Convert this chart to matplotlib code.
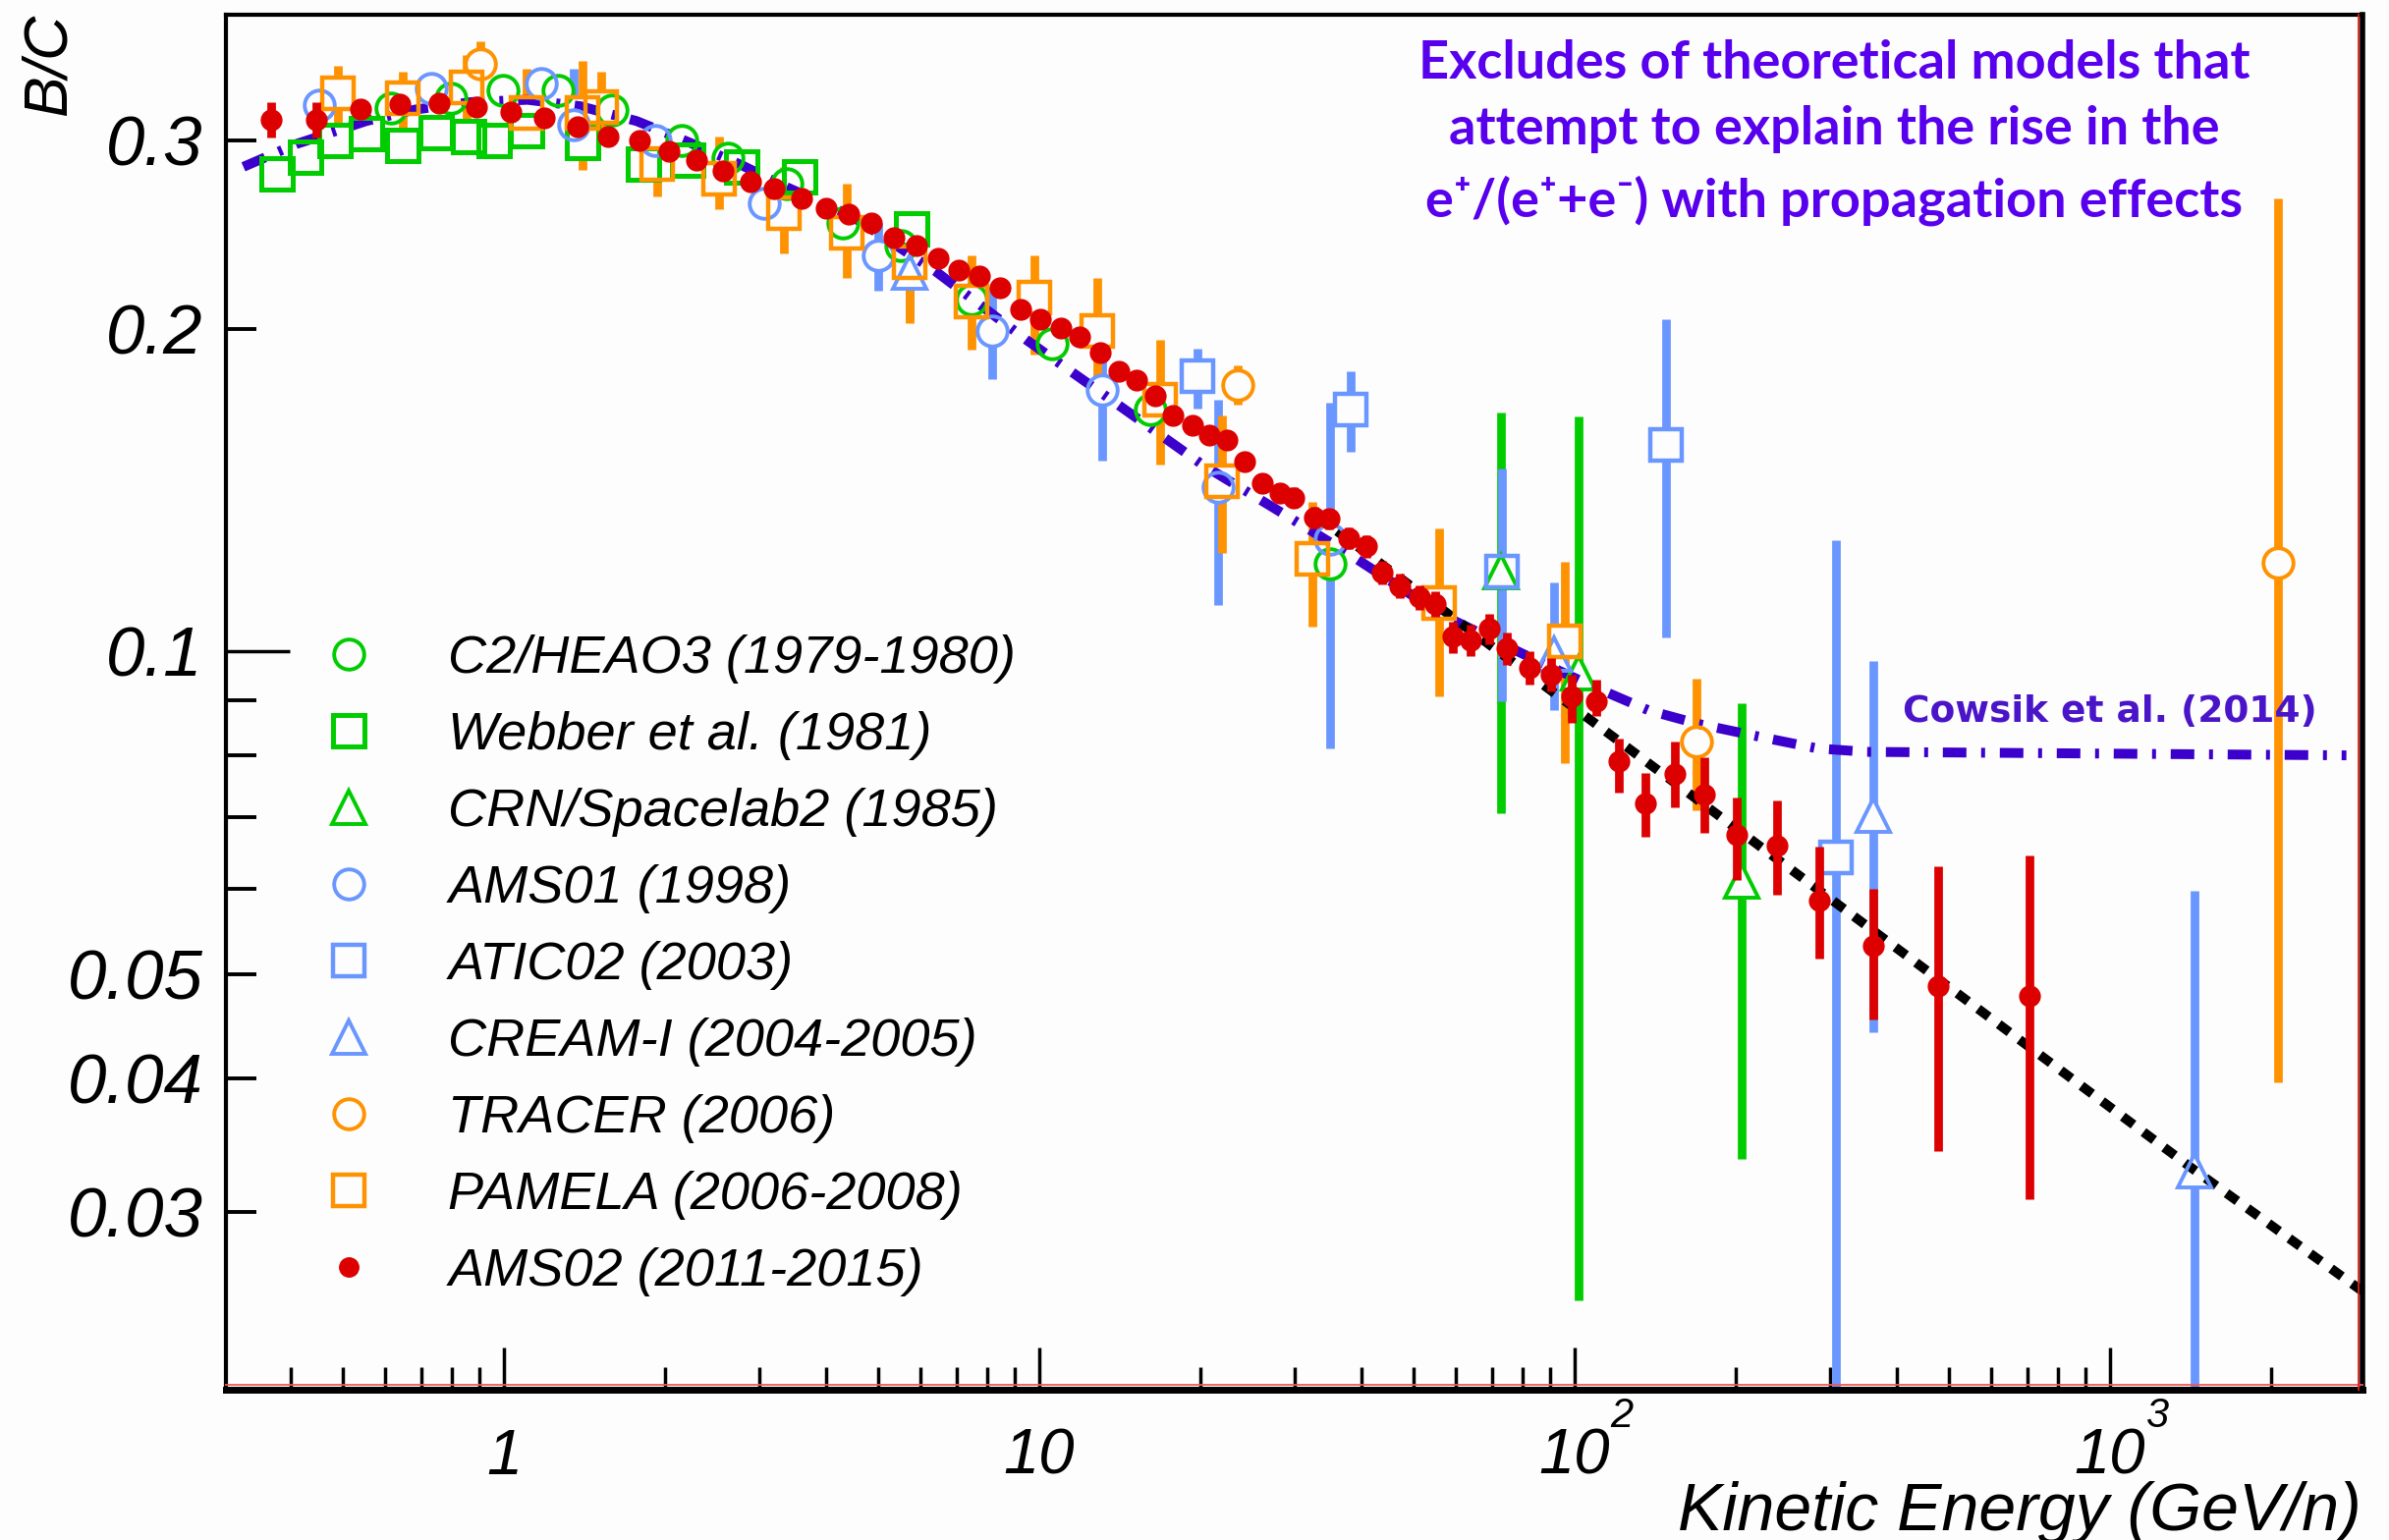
import numpy as np
import matplotlib
matplotlib.use("Agg")
import matplotlib.pyplot as plt
import matplotlib.transforms as mtransforms
from matplotlib.lines import Line2D
from matplotlib.ticker import FixedLocator, FuncFormatter, NullFormatter

plt.rcParams['font.family'] = ['Liberation Sans', 'DejaVu Sans']
plt.rcParams['font.style'] = 'italic'

BG = '#FDFDFD'
GREEN = '#00CC00'
BLUE = '#6A96FF'
ORANGE = '#FF9200'
RED = '#DD0000'
MODEL = '#3C00CC'
NOTE = '#5800EE'

# ---------------- data: B/C ratio vs kinetic energy per nucleon ----------------
heao_E = [0.615, 0.795, 0.996, 1.26, 1.59, 2.15, 2.62, 3.38, 4.30, 5.51, 7.46, 10.55, 16.1, 34.9]
heao_BC = [0.3215, 0.3284, 0.334, 0.334, 0.3204, 0.2998, 0.2884, 0.2735, 0.2512, 0.2392,
           0.213, 0.1938, 0.1683, 0.1207]

webber_E = [0.377, 0.425, 0.483, 0.553, 0.648, 0.748, 0.857, 0.96, 1.10, 1.40, 1.82, 2.2, 2.78, 3.56, 5.77]
webber_BC = [0.279, 0.289, 0.300, 0.304, 0.2965, 0.305, 0.3025, 0.2998, 0.306, 0.2986,
             0.2853, 0.2873, 0.2833, 0.2774, 0.2478]

crn_E = [72.7, 101.6, 205.0]
crn_BC = [0.1186, 0.0955, 0.0611]
crn_lo = [0.0707, 0.0248, 0.0336]
crn_hi = [0.1671, 0.1658, 0.0894]

ams01_E = [0.451, 0.731, 1.176, 1.348, 1.92, 3.06, 5.0, 8.17, 13.1, 21.6, 34.9]
ams01_BC = [0.3238, 0.3354, 0.339, 0.310, 0.2998, 0.262, 0.2343, 0.1993, 0.1756, 0.1422, 0.1272]
ams01_lo = [0.316, 0.328, 0.331, 0.289, 0.292, 0.254, 0.2173, 0.1794, 0.1508, 0.1105, 0.0812]
ams01_hi = [0.331, 0.343, 0.347, 0.350, 0.308, 0.270, 0.2513, 0.2190, 0.1975, 0.1719, 0.1707]

atic_E = [19.7, 38.2, 73.0, 148.4, 307.0]
atic_BC = [0.1806, 0.1683, 0.1186, 0.1559, 0.0642]
atic_lo = [0.1687, 0.1535, 0.0899, 0.1030, 0.0150]
atic_hi = [0.1918, 0.1827, 0.1483, 0.2042, 0.1270]

cream_E = [5.72, 91.6, 361.0, 1439.0]
cream_BC = [0.2260, 0.0995, 0.0704, 0.0328]
cream_lo = [0.2041, 0.0881, 0.0441, 0.0150]
cream_hi = [0.2300, 0.1160, 0.0979, 0.0598]

tracer_E = [0.903, 23.5, 168.7, 2061.0]
tracer_BC = [0.3535, 0.1774, 0.0824, 0.1209]
tracer_lo = [0.3450, 0.1700, 0.0711, 0.0396]
tracer_hi = [0.3714, 0.1850, 0.0944, 0.2649]

pamela_E = [0.489, 0.648, 0.850, 1.10, 1.40, 1.52, 1.935, 2.52, 3.33, 4.37, 5.73, 7.46,
            9.79, 12.84, 16.84, 21.9, 32.3, 55.7, 95.8]
pamela_BC = [0.332, 0.3284, 0.336, 0.318, 0.318, 0.322, 0.2853, 0.2763, 0.2567, 0.246,
             0.231, 0.2123, 0.2138, 0.1993, 0.1719, 0.1442, 0.1219, 0.1109, 0.1023]
pamela_lo = [0.304, 0.3004, 0.3104, 0.2986, 0.2812, 0.2986, 0.266, 0.2585, 0.235, 0.2233,
             0.2026, 0.1911, 0.1892, 0.1752, 0.1494, 0.1235, 0.1056, 0.0908, 0.0787]
pamela_hi = [0.3523, 0.3475, 0.360, 0.350, 0.3556, 0.3475, 0.3104, 0.3025, 0.2833, 0.2735,
             0.2526, 0.2344, 0.2344, 0.2231, 0.1953, 0.1659, 0.1378, 0.1303, 0.1213]

ams02_E = [0.368, 0.446, 0.539, 0.638, 0.756, 0.887, 1.03, 1.19, 1.374, 1.567,
           1.79, 2.03, 2.29, 2.57, 2.89, 3.20, 3.59, 3.99, 4.40, 4.85,
           5.35, 5.90, 6.46, 7.07, 7.74, 8.44, 9.21, 10.06, 10.96, 11.9,
           13.0, 14.06, 15.16, 16.47, 17.77, 19.30, 20.8, 22.4, 24.2, 26.1,
           28.1, 29.9, 32.6, 34.8, 37.9, 40.8, 43.7, 47.1, 51.2, 54.8,
           59.1, 63.8, 69.2, 74.7, 82.3, 90.2, 98.7, 109.7, 121.0, 135.6,
           154.0, 175.0, 200.8, 238.7, 286.0, 361.0, 477.5, 708.0]
ams02_BC = [0.3136, 0.3136, 0.321, 0.3243, 0.325, 0.3224, 0.3187, 0.315, 0.3087, 0.3025,
            0.2998, 0.2931, 0.2876, 0.2809, 0.2745, 0.2706, 0.2648, 0.2594, 0.2559, 0.2513,
            0.2434, 0.2392, 0.2328, 0.2271, 0.2239, 0.2184, 0.2086, 0.2042, 0.2003, 0.1965,
            0.190, 0.1825, 0.1791, 0.1731, 0.166, 0.1625, 0.1593, 0.1575, 0.1504, 0.1437,
            0.1407, 0.1392, 0.1334, 0.133, 0.1275, 0.1253, 0.1184, 0.1151, 0.1123, 0.1107,
            0.1032, 0.1025, 0.105, 0.1007, 0.0966, 0.0952, 0.0908, 0.0899, 0.0790, 0.0721,
            0.0768, 0.0736, 0.0675, 0.0659, 0.0585, 0.0531, 0.0487, 0.0477]
ams02_dn = [0.012, 0.012, 0.003, 0.003, 0.003, 0.003, 0.003, 0.003, 0.003, 0.003,
            0.003, 0.003, 0.003, 0.003, 0.003, 0.003, 0.003, 0.003, 0.003, 0.003,
            0.003, 0.003, 0.003, 0.003, 0.003, 0.003, 0.003, 0.003, 0.003, 0.003,
            0.003, 0.003, 0.003, 0.003, 0.003, 0.003, 0.003, 0.003, 0.003, 0.003,
            0.003, 0.003, 0.003, 0.003, 0.003, 0.003, 0.003, 0.003, 0.003, 0.003,
            0.0035, 0.0035, 0.0035, 0.0035, 0.0035, 0.0035, 0.0051, 0.0028, 0.0051, 0.0049,
            0.0052, 0.0059, 0.0063, 0.0066, 0.0068, 0.0077, 0.0145, 0.0169]
ams02_up = [0.012, 0.012, 0.003, 0.003, 0.003, 0.003, 0.003, 0.003, 0.003, 0.003,
            0.003, 0.003, 0.003, 0.003, 0.003, 0.003, 0.003, 0.003, 0.003, 0.003,
            0.003, 0.003, 0.003, 0.003, 0.003, 0.003, 0.003, 0.003, 0.003, 0.003,
            0.003, 0.003, 0.003, 0.003, 0.003, 0.003, 0.003, 0.003, 0.003, 0.003,
            0.003, 0.003, 0.003, 0.003, 0.003, 0.003, 0.003, 0.003, 0.003, 0.003,
            0.0035, 0.0035, 0.0035, 0.0035, 0.0035, 0.0035, 0.0043, 0.0042, 0.0040, 0.0050,
            0.0056, 0.0060, 0.0056, 0.0067, 0.0073, 0.0069, 0.0144, 0.0168]

# model curves
cowsik_E = [0.326, 0.409, 0.553, 0.683, 0.870, 1.107, 1.389, 1.768, 2.217, 2.78, 3.30, 4.46,
            6.41, 9.49, 13.85, 20.2, 27.3, 37.6, 56.5, 80.0, 108.0, 137.6, 170.0, 223.0,
            284.0, 351.0, 2764.0]
cowsik_BC = [0.2833, 0.2975, 0.3126, 0.3204, 0.3256, 0.3272, 0.3227, 0.3126, 0.2986, 0.2843,
             0.2725, 0.2549, 0.2262, 0.1951, 0.1707, 0.1493, 0.1363, 0.1236, 0.1082, 0.0995,
             0.0928, 0.0881, 0.0856, 0.0832, 0.0812, 0.0806, 0.0800]
fit_E = [36.0, 283.0, 1440.0, 2960.0]
fit_BC = [0.1295, 0.0601, 0.0328, 0.0253]

# axis ticks and labels
x_major = [1, 10, 100, 1000]
x_minor = [0.4, 0.5, 0.6, 0.7, 0.8, 0.9, 2, 3, 4, 5, 6, 7, 8, 9,
           20, 30, 40, 50, 60, 70, 80, 90, 200, 300, 400, 500, 600, 700, 800, 900, 2000]
x_label_base = ['1', '10', '10', '10']
x_label_sup = ['', '', '2', '3']
y_major = [0.1]
y_minor = [0.03, 0.04, 0.05, 0.06, 0.07, 0.08, 0.09, 0.2, 0.3]
y_label_values = [0.03, 0.04, 0.05, 0.1, 0.2, 0.3]
y_label_text = ['0.03', '0.04', '0.05', '0.1', '0.2', '0.3']

legend_labels = ['C2/HEAO3 (1979-1980)', 'Webber et al. (1981)', 'CRN/Spacelab2 (1985)',
                 'AMS01 (1998)', 'ATIC02 (2003)', 'CREAM-I (2004-2005)', 'TRACER (2006)',
                 'PAMELA (2006-2008)', 'AMS02 (2011-2015)']

note_lines = ['Excludes of theoretical models that',
              'attempt to explain the rise in the',
              'e\u207a/(e\u207a+e\u207b) with propagation effects']

# ---------------- figure ----------------
W, H = 2432, 1568
fig = plt.figure(figsize=(W / 100, H / 100), dpi=100, facecolor=BG)
ax = fig.add_axes([230 / W, (H - 1415) / H, 2175 / W, 1400 / H])
ax.set_facecolor(BG)
ax.set_xscale('log')
ax.set_yscale('log')
ax.set_xlim(0.3024, 2962)
ax.set_ylim(0.02047, 0.3928)

ELW = 6.3


def open_series(E, BC, color, marker, ms, mew, label, lo=None, hi=None):
    E = np.asarray(E, float)
    BC = np.asarray(BC, float)
    if lo is not None:
        yerr = [BC - np.asarray(lo, float), np.asarray(hi, float) - BC]
        ax.errorbar(E, BC, yerr=yerr, fmt='none', ecolor=color, elinewidth=ELW,
                    capsize=0, zorder=2)
    # blank the marker interior so bars stop at the outline
    ax.plot(E, BC, ls='none', marker=marker, ms=ms, mfc=BG, mec='none', zorder=3)
    h, = ax.plot(E, BC, ls='none', marker=marker, ms=ms, mfc='none', mec=color,
                 mew=mew, zorder=5, label=label)
    return h


handles = []
handles.append(open_series(heao_E, heao_BC, GREEN, 'o', 22, 2.8, legend_labels[0]))
handles.append(open_series(webber_E, webber_BC, GREEN, 's', 23, 3.6, legend_labels[1]))
handles.append(open_series(crn_E, crn_BC, GREEN, '^', 24, 2.8, legend_labels[2], crn_lo, crn_hi))
handles.append(open_series(ams01_E, ams01_BC, BLUE, 'o', 22, 2.8, legend_labels[3], ams01_lo, ams01_hi))
handles.append(open_series(atic_E, atic_BC, BLUE, 's', 23, 3.2, legend_labels[4], atic_lo, atic_hi))
handles.append(open_series(cream_E, cream_BC, BLUE, '^', 24, 2.8, legend_labels[5], cream_lo, cream_hi))
handles.append(open_series(tracer_E, tracer_BC, ORANGE, 'o', 22, 2.8, legend_labels[6], tracer_lo, tracer_hi))
handles.append(open_series(pamela_E, pamela_BC, ORANGE, 's', 23, 3.2, legend_labels[7], pamela_lo, pamela_hi))

ax.errorbar(ams02_E, ams02_BC, yerr=[ams02_dn, ams02_up], fmt='o', color=RED, ms=15,
            elinewidth=ELW, capsize=0, zorder=6)
handles.append(Line2D([], [], ls='none', marker='o', ms=14, color=RED, label=legend_labels[8]))

# propagation models
ax.plot(cowsik_E, cowsik_BC, color=MODEL, lw=7.2, dashes=(2.4, 1.5, 0.4, 1.5),
        dash_capstyle='butt', zorder=4)
ax.plot(fit_E, fit_BC, color='black', lw=7.0, dashes=(1.4, 1.3),
        dash_capstyle='butt', zorder=4)

# ---------------- axes styling ----------------
for side, lw in (('left', 3.0), ('bottom', 5.0), ('top', 3.0), ('right', 4.0)):
    ax.spines[side].set_linewidth(lw)
    ax.spines[side].set_color('black')

# thin red inner edge along the bottom and right frame
ax.plot([0, 1], [0.0034, 0.0034], transform=ax.transAxes, color='#E85A5A', lw=1.3,
        zorder=7, clip_on=False)
ax.plot([0.9982, 0.9982], [0, 1], transform=ax.transAxes, color='#E02020', lw=1.3,
        zorder=7, clip_on=False)

ax.xaxis.set_major_locator(FixedLocator(x_major))
ax.xaxis.set_minor_locator(FixedLocator(x_minor))
ax.xaxis.set_major_formatter(NullFormatter())
ax.xaxis.set_minor_formatter(NullFormatter())
ax.tick_params(axis='x', which='major', direction='in', length=31, width=2.5, top=False)
ax.tick_params(axis='x', which='minor', direction='in', length=16.5, width=2.5, top=False)


def y_fmt(v, pos):
    for val, txt in zip(y_label_values, y_label_text):
        if np.isclose(v, val):
            return txt
    return ''


ax.yaxis.set_major_locator(FixedLocator(y_major))
ax.yaxis.set_minor_locator(FixedLocator(y_minor))
ax.yaxis.set_major_formatter(FuncFormatter(y_fmt))
ax.yaxis.set_minor_formatter(FuncFormatter(y_fmt))
ax.tick_params(axis='y', which='major', direction='in', length=47, width=2.5,
               right=False, labelsize=51, pad=17)
ax.tick_params(axis='y', which='minor', direction='in', length=22, width=2.8,
               right=False, labelsize=51, pad=17)

# decade labels on the energy axis, written with a raised exponent
trans = mtransforms.blended_transform_factory(ax.transData, ax.transAxes)
sup_trans = mtransforms.offset_copy(trans, fig=fig, x=26, y=34.5, units='points')
for v, base, sup in zip(x_major, x_label_base, x_label_sup):
    ax.text(v, -0.0614, base, transform=trans, ha='center', va='baseline', fontsize=47)
    if sup:
        ax.text(v, -0.0614, sup, transform=sup_trans, ha='left', va='baseline', fontsize=30)

fig.text(2404 / W, (H - 1558) / H, 'Kinetic Energy (GeV/n)', ha='right', va='baseline',
         fontsize=49)
fig.text(50 / W, 1 - 66 / H, 'B/C', rotation=90, ha='center', va='center', fontsize=45)

ax.legend(handles=handles, loc='upper left', bbox_to_anchor=(0.045, 0.549), frameon=False,
          fontsize=39, handlelength=1.0, handletextpad=1.37, labelspacing=0.515,
          borderpad=0, borderaxespad=0)

for line, yb in zip(note_lines, [80, 147, 220]):
    fig.text(1867 / W, 1 - yb / H, line, ha='center', va='baseline', fontsize=39,
             fontweight='bold', style='normal', family=['Lato', 'DejaVu Sans'], color=NOTE)

fig.text(2148 / W, 1 - 735 / H, 'Cowsik et al. (2014)', ha='center', va='baseline',
         fontsize=27, fontweight='bold', style='normal', family=['DejaVu Sans'],
         color='#4A14C8')

fig.savefig('out.png', dpi=100, facecolor=BG)
